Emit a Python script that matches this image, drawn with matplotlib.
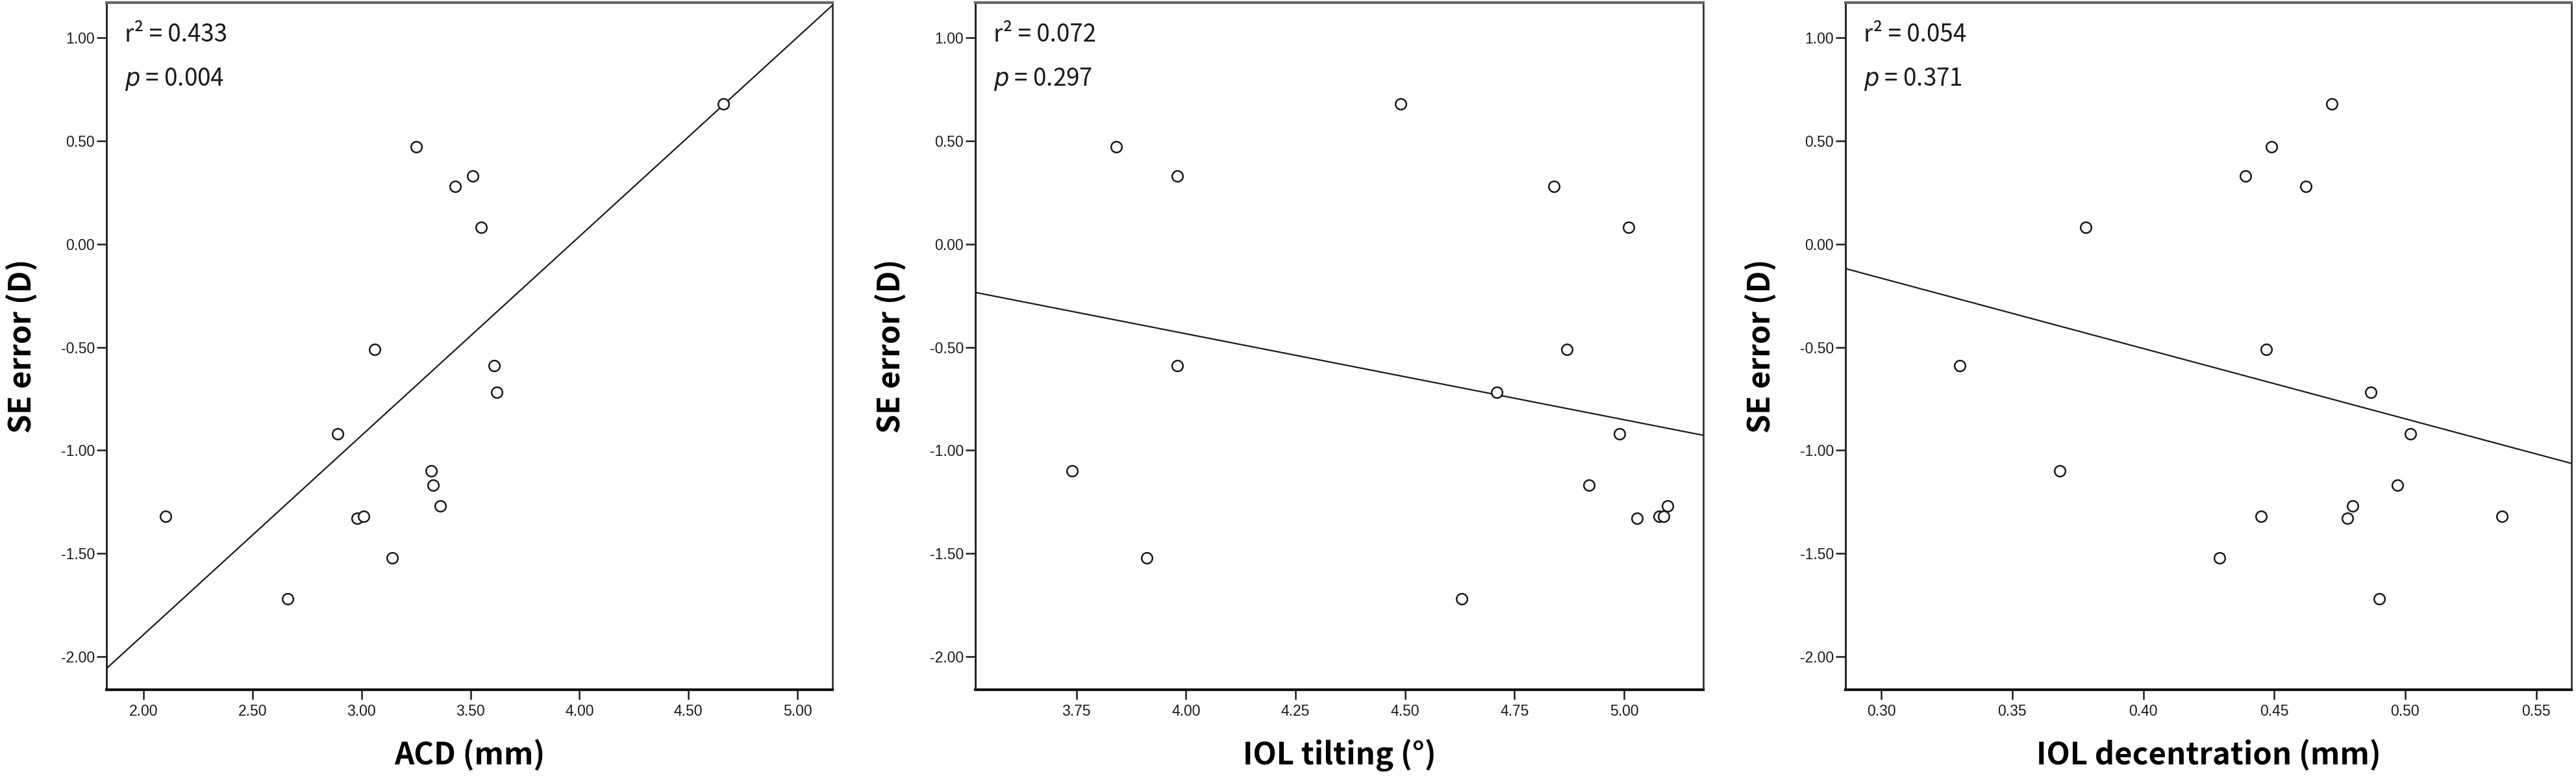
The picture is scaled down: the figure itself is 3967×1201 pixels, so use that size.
import matplotlib.pyplot as plt
import numpy as np
from matplotlib.ticker import FormatStrFormatter

plt.rcParams['mathtext.fontset'] = 'dejavusans'

# SE error (D), shared by all three panels
se_error = [-1.72, -1.52, -1.33, -1.32, -1.32, -1.27, -1.17, -1.10, -0.92,
            -0.72, -0.59, -0.51, 0.08, 0.28, 0.33, 0.47, 0.68]

acd = [2.66, 3.14, 2.98, 2.10, 3.01, 3.36, 3.33, 3.32, 2.89,
       3.62, 3.61, 3.06, 3.55, 3.43, 3.51, 3.25, 4.66]
tilt = [4.63, 3.91, 5.03, 5.08, 5.09, 5.10, 4.92, 3.74, 4.99,
        4.71, 3.98, 4.87, 5.01, 4.84, 3.98, 3.84, 4.49]
decentration = [0.490, 0.429, 0.478, 0.445, 0.537, 0.480, 0.497, 0.368, 0.502,
                0.487, 0.330, 0.447, 0.378, 0.462, 0.439, 0.449, 0.472]

x_labels = ['ACD (mm)', 'IOL tilting (°)', 'IOL decentration (mm)']
r2_values = ['0.433', '0.072', '0.054']
p_values = ['0.004', '0.297', '0.371']

# fitted lines (slope, intercept)
fit_lines = [(0.965, -3.823), (-0.4165, 1.231), (-3.406, 0.856)]

x_ticks = [[2.00, 2.50, 3.00, 3.50, 4.00, 4.50, 5.00],
           [3.75, 4.00, 4.25, 4.50, 4.75, 5.00],
           [0.30, 0.35, 0.40, 0.45, 0.50, 0.55]]
x_limits = [(1.83, 5.161), (3.519, 5.181), (0.2863, 0.5635)]
y_ticks = [-2.00, -1.50, -1.00, -0.50, 0.00, 0.50, 1.00]
y_limits = (-2.16, 1.17)

xs_data = [acd, tilt, decentration]

fig = plt.figure(figsize=(39.67, 12.01), dpi=100)
lefts = [164, 1502, 2842]
widths = [1118, 1121, 1118]

label_font = ['Noto Sans CJK KR', 'DejaVu Sans']
tick_font = ['Liberation Sans', 'DejaVu Sans']

for i in range(3):
    ax = fig.add_axes([lefts[i] / 3967, 139 / 1201, widths[i] / 3967, 1058 / 1201])
    x = xs_data[i]
    ax.plot(x, se_error, 'o', ms=12, mfc='white', mec='#1a1a1a', mew=1.8, zorder=3)

    slope, intercept = fit_lines[i]
    lx = np.array(x_limits[i])
    ax.plot(lx, slope * lx + intercept, color='#1a1a1a', lw=1.6, zorder=2)

    ax.set_xlim(*x_limits[i])
    ax.set_ylim(*y_limits)
    ax.set_xticks(x_ticks[i])
    ax.set_yticks(y_ticks)
    ax.xaxis.set_major_formatter(FormatStrFormatter('%.2f'))
    ax.yaxis.set_major_formatter(FormatStrFormatter('%.2f'))
    ax.tick_params(axis='x', direction='out', length=11, width=1.8, pad=5,
                   labelsize=16.5, colors='#1a1a1a')
    ax.tick_params(axis='y', direction='out', length=11, width=1.8, pad=2,
                   labelsize=16.5, colors='#1a1a1a')
    for lab in ax.get_xticklabels() + ax.get_yticklabels():
        lab.set_family(tick_font)

    ax.spines['left'].set_linewidth(2.0)
    ax.spines['left'].set_color('#1a1a1a')
    ax.spines['right'].set_linewidth(2.0)
    ax.spines['right'].set_color('#333333')
    ax.spines['bottom'].set_linewidth(3.0)
    ax.spines['bottom'].set_color('#111111')
    ax.spines['top'].set_linewidth(3.0)
    ax.spines['top'].set_color('#666666')

    ax.set_xlabel(x_labels[i], family=label_font, fontsize=34, fontweight='bold')
    ax.xaxis.set_label_coords(0.5, -0.072)
    ax.set_ylabel('SE error (D)', family=label_font, fontsize=34, fontweight='bold')
    ax.yaxis.set_label_coords(-0.095, 0.5)

    ax.text(0.025, 0.943, 'r\u00b2 = ' + r2_values[i], transform=ax.transAxes,
            family=label_font, fontsize=26.5, va='baseline', ha='left', color='#1a1a1a')
    ax.text(0.025, 0.879, r'$\mathit{p}$ = ' + p_values[i], transform=ax.transAxes,
            family=label_font, fontsize=26.5, va='baseline', ha='left', color='#1a1a1a')

fig.savefig('out.png', dpi=100, facecolor='white')
